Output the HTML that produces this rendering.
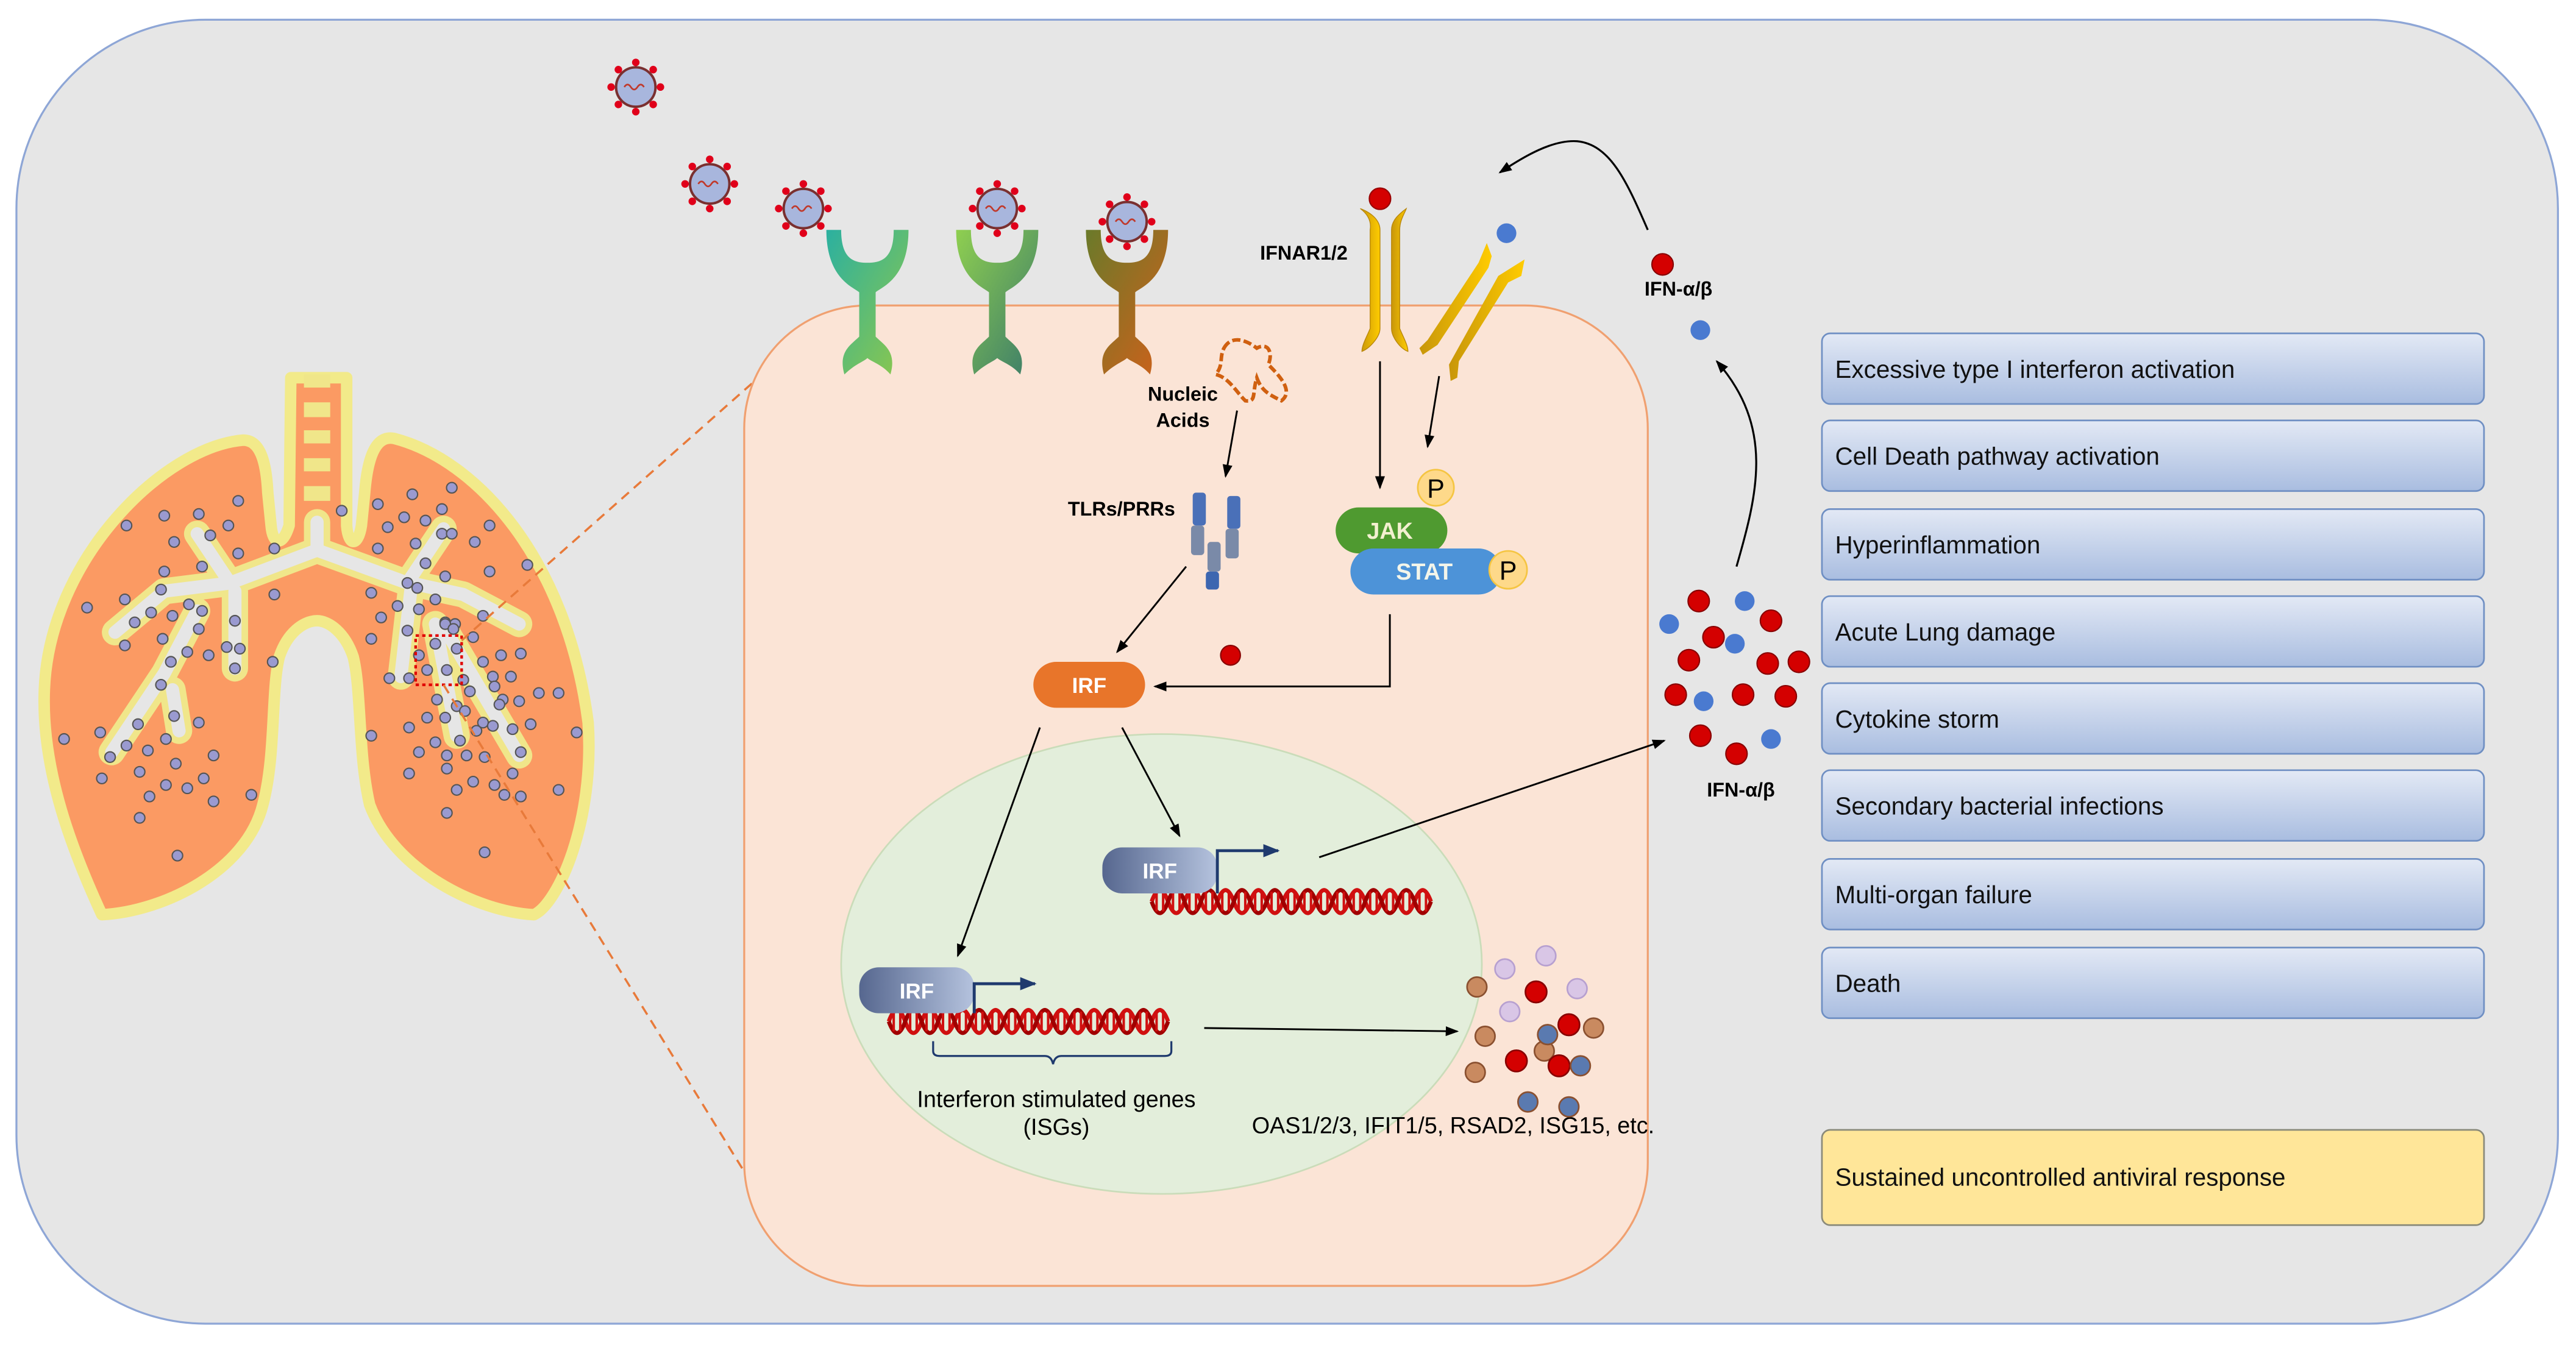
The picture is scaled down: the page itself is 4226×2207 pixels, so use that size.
<!DOCTYPE html>
<html><head><meta charset="utf-8"><style>
html,body{margin:0;padding:0;background:#fff;}
svg{display:block;}
text{font-family:"Liberation Sans",Arial,sans-serif;}
</style></head><body>
<svg width="4226" height="2207" viewBox="0 0 1568 819" preserveAspectRatio="none" xmlns="http://www.w3.org/2000/svg">
<defs>
<linearGradient id="box" x1="0" y1="0" x2="0" y2="1"><stop offset="0" stop-color="#e3e9f5"/><stop offset="1" stop-color="#a9bde0"/></linearGradient>
<linearGradient id="y1" x1="0" y1="0" x2="1" y2="0"><stop offset="0" stop-color="#c8960a"/><stop offset="1" stop-color="#ffcc00"/></linearGradient>
<linearGradient id="irf" x1="0" y1="0" x2="1" y2="0"><stop offset="0" stop-color="#56678f"/><stop offset="1" stop-color="#b5c3de"/></linearGradient>
<linearGradient id="r1" x1="0" y1="0" x2="1" y2="1"><stop offset="0" stop-color="#2bb0a0"/><stop offset="1" stop-color="#8fc84a"/></linearGradient>
<linearGradient id="r2" x1="0" y1="0" x2="1" y2="1"><stop offset="0" stop-color="#8fcf50"/><stop offset="1" stop-color="#3a7a6a"/></linearGradient>
<linearGradient id="r3" x1="0" y1="0" x2="1" y2="1"><stop offset="0" stop-color="#6a7a2a"/><stop offset="1" stop-color="#d0601a"/></linearGradient>
<marker id="ar" markerWidth="8" markerHeight="8" refX="7" refY="4" orient="auto" markerUnits="userSpaceOnUse"><path d="M0,1 L8,4 L0,7 Z" fill="#000"/></marker>
<marker id="arb" markerWidth="10" markerHeight="8" refX="9" refY="4" orient="auto" markerUnits="userSpaceOnUse"><path d="M0,0 L10,4 L0,8 Z" fill="#1f3a6e"/></marker>
<g id="vir"><circle r="12" fill="#a8b6dd" stroke="#7a3030" stroke-width="1.5"/><path d="M-7,0 q2,-3 4,0 t4,0 t4,0" stroke="#c0392b" fill="none" stroke-width="1"/>
<g fill="#e0001a"><circle cx="0" cy="-15" r="2.3"/><circle cx="0" cy="15" r="2.3"/><circle cx="-15" cy="0" r="2.3"/><circle cx="15" cy="0" r="2.3"/><circle cx="10.6" cy="10.6" r="2.3"/><circle cx="-10.6" cy="10.6" r="2.3"/><circle cx="10.6" cy="-10.6" r="2.3"/><circle cx="-10.6" cy="-10.6" r="2.3"/></g></g>
<g id="sv"><circle r="3.2" fill="#9a9ad0" stroke="#555" stroke-width="0.8"/></g>
<g id="dna"><path d="M0,0 q5,-14 10,0 t10,0 t10,0 t10,0 t10,0 t10,0 t10,0 t10,0 t10,0 t10,0 t10,0 t10,0 t10,0 t10,0 t10,0 t10,0 t10,0" stroke="#d01010" stroke-width="2.5" fill="none"/><path d="M0,0 q5,14 10,0 t10,0 t10,0 t10,0 t10,0 t10,0 t10,0 t10,0 t10,0 t10,0 t10,0 t10,0 t10,0 t10,0 t10,0 t10,0 t10,0" stroke="#a00000" stroke-width="2.5" fill="none"/><g stroke="#d01010" stroke-width="1.5"><path d="M3,-6v12M7,-6v12M13,-6v12M17,-6v12M23,-6v12M27,-6v12M33,-6v12M37,-6v12M43,-6v12M47,-6v12M53,-6v12M57,-6v12M63,-6v12M67,-6v12M73,-6v12M77,-6v12M83,-6v12M87,-6v12M93,-6v12M97,-6v12M103,-6v12M107,-6v12M113,-6v12M117,-6v12M123,-6v12M127,-6v12M133,-6v12M137,-6v12M143,-6v12M147,-6v12M153,-6v12M157,-6v12M163,-6v12M167,-6v12"/></g></g>
</defs>
<rect width="1568" height="819" fill="#fff"/>
<rect x="10" y="12" width="1547" height="794" rx="115" fill="#e6e6e6" stroke="#8ea6d6" stroke-width="1.2"/>

<!-- lungs -->
<path d="M148 268 C158 268 162 280 163 300 L165 320 C166 332 172 333 176 320 L177 230 L211 230 L211 320 C212 333 218 333 220 320 L222 300 C224 275 230 265 240 267 C290 280 345 340 358 440 C362 500 340 550 325 557 C290 555 240 530 225 490 C218 460 220 420 215 400 C210 385 200 378 193 378 C185 378 175 385 170 400 C165 420 168 460 160 490 C150 530 100 555 62 557 C45 520 25 470 27 420 C30 340 100 272 148 268 Z" fill="#fb9a63" stroke="#f2ea8a" stroke-width="7" stroke-linejoin="round"/>
<g fill="#f0e68a"><rect x="185" y="228" width="16" height="8"/><rect x="185" y="245" width="16" height="9"/><rect x="185" y="262" width="16" height="8"/><rect x="185" y="279" width="16" height="8"/><rect x="185" y="296" width="16" height="9"/></g>
<g fill="none" stroke-linecap="round" stroke-linejoin="round">
<path d="M193 318 L193 335 L140 355 L100 360 L70 385 M140 355 L120 325 M120 372 L100 410 L68 458 M105 420 L109 445 M143 360 L143 407 M193 335 L248 355 L270 322 M250 355 L282 362 L316 380 M250 360 L244 412 M265 380 L278 448 M272 385 L316 460" stroke="#f0e68a" stroke-width="16"/>
<path d="M193 318 L193 335 L140 355 L100 360 L70 385 M140 355 L120 325 M120 372 L100 410 L68 458 M105 420 L109 445 M143 360 L143 407 M193 335 L248 355 L270 322 M250 355 L282 362 L316 380 M250 360 L244 412 M265 380 L278 448 M272 385 L316 460" stroke="#e6e6e6" stroke-width="8"/>
</g>
<g>
<use href="#sv" x="77" y="320"/><use href="#sv" x="100" y="314"/><use href="#sv" x="121" y="313"/><use href="#sv" x="145" y="305"/><use href="#sv" x="106" y="330"/><use href="#sv" x="128" y="326"/><use href="#sv" x="139" y="320"/><use href="#sv" x="145" y="337"/><use href="#sv" x="167" y="334"/><use href="#sv" x="100" y="348"/><use href="#sv" x="123" y="345"/><use href="#sv" x="98" y="359"/><use href="#sv" x="76" y="365"/><use href="#sv" x="53" y="370"/><use href="#sv" x="82" y="379"/><use href="#sv" x="92" y="373"/><use href="#sv" x="105" y="375"/><use href="#sv" x="115" y="368"/><use href="#sv" x="123" y="372"/><use href="#sv" x="121" y="383"/><use href="#sv" x="143" y="378"/><use href="#sv" x="167" y="362"/><use href="#sv" x="76" y="393"/><use href="#sv" x="99" y="389"/><use href="#sv" x="114" y="397"/><use href="#sv" x="127" y="399"/><use href="#sv" x="138" y="394"/><use href="#sv" x="146" y="395"/><use href="#sv" x="104" y="403"/><use href="#sv" x="143" y="407"/><use href="#sv" x="166" y="403"/><use href="#sv" x="98" y="417"/><use href="#sv" x="106" y="436"/><use href="#sv" x="84" y="441"/><use href="#sv" x="121" y="440"/><use href="#sv" x="39" y="450"/><use href="#sv" x="61" y="446"/><use href="#sv" x="77" y="454"/><use href="#sv" x="101" y="450"/><use href="#sv" x="67" y="461"/><use href="#sv" x="90" y="457"/><use href="#sv" x="130" y="460"/><use href="#sv" x="107" y="465"/><use href="#sv" x="85" y="470"/><use href="#sv" x="62" y="474"/><use href="#sv" x="101" y="478"/><use href="#sv" x="114" y="480"/><use href="#sv" x="124" y="474"/><use href="#sv" x="91" y="485"/><use href="#sv" x="130" y="488"/><use href="#sv" x="153" y="484"/><use href="#sv" x="85" y="498"/><use href="#sv" x="108" y="521"/>
<use href="#sv" x="208" y="311"/><use href="#sv" x="230" y="307"/><use href="#sv" x="251" y="301"/><use href="#sv" x="275" y="297"/><use href="#sv" x="236" y="321"/><use href="#sv" x="246" y="315"/><use href="#sv" x="259" y="317"/><use href="#sv" x="269" y="310"/><use href="#sv" x="298" y="320"/><use href="#sv" x="230" y="334"/><use href="#sv" x="253" y="331"/><use href="#sv" x="269" y="325"/><use href="#sv" x="275" y="325"/><use href="#sv" x="289" y="330"/><use href="#sv" x="259" y="343"/><use href="#sv" x="271" y="351"/><use href="#sv" x="298" y="348"/><use href="#sv" x="321" y="344"/><use href="#sv" x="248" y="355"/><use href="#sv" x="254" y="358"/><use href="#sv" x="226" y="361"/><use href="#sv" x="242" y="369"/><use href="#sv" x="255" y="371"/><use href="#sv" x="265" y="365"/><use href="#sv" x="232" y="376"/><use href="#sv" x="271" y="379"/><use href="#sv" x="277" y="380"/><use href="#sv" x="294" y="375"/><use href="#sv" x="226" y="389"/><use href="#sv" x="248" y="384"/><use href="#sv" x="271" y="380"/><use href="#sv" x="276" y="383"/><use href="#sv" x="288" y="388"/><use href="#sv" x="305" y="399"/><use href="#sv" x="317" y="398"/><use href="#sv" x="255" y="399"/><use href="#sv" x="265" y="392"/><use href="#sv" x="278" y="395"/><use href="#sv" x="294" y="403"/><use href="#sv" x="237" y="413"/><use href="#sv" x="249" y="413"/><use href="#sv" x="260" y="408"/><use href="#sv" x="272" y="408"/><use href="#sv" x="282" y="414"/><use href="#sv" x="300" y="412"/><use href="#sv" x="311" y="412"/><use href="#sv" x="286" y="421"/><use href="#sv" x="301" y="418"/><use href="#sv" x="328" y="422"/><use href="#sv" x="340" y="422"/><use href="#sv" x="306" y="426"/><use href="#sv" x="266" y="426"/><use href="#sv" x="278" y="430"/><use href="#sv" x="304" y="429"/><use href="#sv" x="316" y="427"/><use href="#sv" x="260" y="437"/><use href="#sv" x="271" y="437"/><use href="#sv" x="283" y="433"/><use href="#sv" x="294" y="440"/><use href="#sv" x="249" y="443"/><use href="#sv" x="290" y="445"/><use href="#sv" x="300" y="442"/><use href="#sv" x="312" y="444"/><use href="#sv" x="323" y="441"/><use href="#sv" x="351" y="446"/><use href="#sv" x="226" y="448"/><use href="#sv" x="265" y="452"/><use href="#sv" x="280" y="451"/><use href="#sv" x="317" y="458"/><use href="#sv" x="255" y="458"/><use href="#sv" x="272" y="460"/><use href="#sv" x="284" y="460"/><use href="#sv" x="295" y="461"/><use href="#sv" x="249" y="471"/><use href="#sv" x="272" y="468"/><use href="#sv" x="312" y="471"/><use href="#sv" x="288" y="476"/><use href="#sv" x="301" y="478"/><use href="#sv" x="278" y="481"/><use href="#sv" x="340" y="481"/><use href="#sv" x="307" y="484"/><use href="#sv" x="317" y="485"/><use href="#sv" x="272" y="495"/><use href="#sv" x="295" y="519"/>
</g>
<rect x="253" y="387" width="28" height="30" fill="none" stroke="#e00000" stroke-width="1.6" stroke-dasharray="2 2"/>
<line x1="281" y1="390" x2="500" y2="196" stroke="#e87a3a" stroke-width="1.3" stroke-dasharray="6 4"/>
<line x1="270" y1="417" x2="462" y2="728" stroke="#e87a3a" stroke-width="1.3" stroke-dasharray="6 4"/>

<!-- cell -->
<rect x="453" y="186" width="550" height="597" rx="75" fill="#fbe4d6" stroke="#f0a070" stroke-width="1.2"/>
<ellipse cx="707" cy="587" rx="195" ry="140" fill="#e3eedb" stroke="#cadcb9" stroke-width="1"/>

<!-- receptors -->
<g>
<path d="M503 140 C503 170 520 175 523 178 L523 205 C518 210 510 214 514 228 C520 222 526 220 528 218 C530 220 537 222 542 228 C546 214 538 210 533 205 L533 178 C536 175 553 170 553 140 L544 140 C544 158 536 160 528 160 C520 160 512 158 512 140 Z" fill="url(#r1)"/>
<path d="M582 140 C582 170 599 175 602 178 L602 205 C597 210 589 214 593 228 C599 222 605 220 607 218 C609 220 616 222 621 228 C625 214 617 210 612 205 L612 178 C615 175 632 170 632 140 L623 140 C623 158 615 160 607 160 C599 160 591 158 591 140 Z" fill="url(#r2)"/>
<path d="M661 140 C661 170 678 175 681 178 L681 205 C676 210 668 214 672 228 C678 222 684 220 686 218 C688 220 695 222 700 228 C704 214 696 210 691 205 L691 178 C694 175 711 170 711 140 L702 140 C702 158 694 160 686 160 C678 160 670 158 670 140 Z" fill="url(#r3)"/>
</g>
<use href="#vir" x="387" y="53"/><use href="#vir" x="432" y="112"/><use href="#vir" x="489" y="127"/><use href="#vir" x="607" y="127"/><use href="#vir" x="686" y="135"/>

<!-- IFNAR -->
<path d="M828 127 C832 130 835 134 834 140 L834 200 C832 205 829 210 829 214 C834 212 840 205 840 200 L840 140 C840 135 836 130 828 127 Z" fill="url(#y1)" stroke="#b8860b" stroke-width="0.5"/>
<path d="M856 127 C852 130 847 134 847 140 L847 200 C847 205 852 212 857 214 C857 210 854 205 852 200 L852 140 C852 134 855 130 856 127 Z" fill="url(#y1)" stroke="#b8860b" stroke-width="0.5"/>
<path d="M905 148 L908 156 L906 163 L875 210 L866 216 L864 212 L869 207 L900 160 Z" fill="url(#y1)"/>
<path d="M928 158 L926 168 L918 172 L888 220 L887 230 L883 232 L882 222 L912 168 Z" fill="url(#y1)"/>
<circle cx="840" cy="121" r="6.5" fill="#d40000" stroke="#900" stroke-width="0.8"/>
<circle cx="917" cy="142" r="6" fill="#4a7ad0"/>
<text x="767" y="158" font-size="12" font-weight="bold">IFNAR1/2</text>
<path d="M1003 140 C990 110 980 88 960 86 C945 85 928 95 913 105" fill="none" stroke="#000" stroke-width="1.2" marker-end="url(#ar)"/>
<circle cx="1012" cy="161" r="6.5" fill="#d40000" stroke="#800" stroke-width="0.8"/>
<text x="1001" y="180" font-size="12" font-weight="bold">IFN-α/β</text>
<circle cx="1035" cy="201" r="6" fill="#4a7ad0"/>
<path d="M1057 345 C1070 300 1080 260 1045 220" fill="none" stroke="#000" stroke-width="1.2" marker-end="url(#ar)"/>

<!-- IFN cluster -->
<g fill="#d40000" stroke="#800" stroke-width="0.8"><circle cx="1034" cy="366" r="6.5"/><circle cx="1078" cy="378" r="6.5"/><circle cx="1043" cy="388" r="6.5"/><circle cx="1028" cy="402" r="6.5"/><circle cx="1076" cy="404" r="6.5"/><circle cx="1095" cy="403" r="6.5"/><circle cx="1020" cy="423" r="6.5"/><circle cx="1061" cy="423" r="6.5"/><circle cx="1087" cy="424" r="6.5"/><circle cx="1035" cy="448" r="6.5"/><circle cx="1057" cy="459" r="6.5"/></g>
<g fill="#4a7ad0"><circle cx="1062" cy="366" r="6"/><circle cx="1016" cy="380" r="6"/><circle cx="1056" cy="392" r="6"/><circle cx="1037" cy="427" r="6"/><circle cx="1078" cy="450" r="6"/></g>
<text x="1039" y="485" font-size="12" font-weight="bold">IFN-α/β</text>

<!-- nucleic acids -->
<path d="M745 212 C750 203 760 208 765 212 C772 208 775 215 772 222 C778 228 788 238 780 244 C772 240 768 238 765 230 C762 240 765 245 758 244 C752 238 748 230 740 228 C745 222 742 218 745 212 Z" fill="none" stroke="#d06010" stroke-width="2.2" stroke-dasharray="5 2"/>
<text x="720" y="244" font-size="12" font-weight="bold" text-anchor="middle">Nucleic</text>
<text x="720" y="260" font-size="12" font-weight="bold" text-anchor="middle">Acids</text>
<line x1="753" y1="250" x2="746" y2="290" stroke="#000" stroke-width="1.1" marker-end="url(#ar)"/>
<text x="650" y="314" font-size="12" font-weight="bold">TLRs/PRRs</text>
<g><rect x="726" y="300" width="8" height="20" rx="2" fill="#4a70b8"/><rect x="747" y="302" width="8" height="20" rx="2" fill="#4a70b8"/><rect x="725" y="320" width="8" height="18" rx="2" fill="#7a8aa8"/><rect x="746" y="322" width="8" height="18" rx="2" fill="#7a8aa8"/><rect x="735" y="330" width="8" height="18" rx="2" fill="#7a8aa8"/><rect x="734" y="348" width="8" height="11" rx="2" fill="#3d66b0"/></g>
<line x1="722" y1="345" x2="680" y2="397" stroke="#000" stroke-width="1.1" marker-end="url(#ar)"/>
<line x1="840" y1="220" x2="840" y2="297" stroke="#000" stroke-width="1.1" marker-end="url(#ar)"/>
<line x1="876" y1="229" x2="869" y2="272" stroke="#000" stroke-width="1.1" marker-end="url(#ar)"/>

<!-- JAK/STAT -->
<rect x="813" y="309" width="68" height="28" rx="14" fill="#4f9a30"/>
<text x="846" y="328" font-size="14" font-weight="bold" fill="#f3f0d0" text-anchor="middle">JAK</text>
<circle cx="874" cy="297" r="11" fill="#fed98a" stroke="#f5c542" stroke-width="1"/>
<text x="874" y="303" font-size="16" text-anchor="middle">P</text>
<rect x="822" y="334" width="92" height="28" rx="14" fill="#4d93d8"/>
<text x="867" y="353" font-size="14" font-weight="bold" fill="#f3f5ea" text-anchor="middle">STAT</text>
<circle cx="918" cy="347" r="11.5" fill="#fed98a" stroke="#f5c542" stroke-width="1"/>
<text x="918" y="353" font-size="16" text-anchor="middle">P</text>
<path d="M846 374 L846 418 L703 418" fill="none" stroke="#000" stroke-width="1.1" marker-end="url(#ar)"/>
<circle cx="749" cy="399" r="6" fill="#d40000" stroke="#800" stroke-width="0.8"/>

<!-- IRF -->
<rect x="629" y="403" width="68" height="28" rx="14" fill="#e8752a"/>
<text x="663" y="422" font-size="13" font-weight="bold" fill="#fff" text-anchor="middle">IRF</text>
<line x1="633" y1="443" x2="583" y2="582" stroke="#000" stroke-width="1.1" marker-end="url(#ar)"/>
<line x1="683" y1="443" x2="718" y2="509" stroke="#000" stroke-width="1.1" marker-end="url(#ar)"/>

<!-- nuclear IRF 1 -->
<use href="#dna" x="701" y="549"/>
<rect x="671" y="516" width="70" height="28" rx="12" fill="url(#irf)"/>
<text x="706" y="535" font-size="13" font-weight="bold" fill="#fff" text-anchor="middle">IRF</text>
<path d="M741 544 L741 518 L778 518" fill="none" stroke="#1f3a6e" stroke-width="1.8" marker-end="url(#arb)"/>
<line x1="803" y1="522" x2="1013" y2="451" stroke="#000" stroke-width="1.1" marker-end="url(#ar)"/>

<!-- nuclear IRF 2 -->
<use href="#dna" x="541" y="622"/>
<rect x="523" y="589" width="70" height="28" rx="12" fill="url(#irf)"/>
<text x="558" y="608" font-size="13" font-weight="bold" fill="#fff" text-anchor="middle">IRF</text>
<path d="M593 617 L593 599 L630 599" fill="none" stroke="#1f3a6e" stroke-width="1.8" marker-end="url(#arb)"/>
<path d="M568 634 L568 640 Q568 643 572 643 L636 643 Q640 643 641 648 Q642 643 646 643 L709 643 Q713 643 713 640 L713 634" fill="none" stroke="#1f3a6e" stroke-width="1.2"/>
<text x="643" y="674" font-size="14" text-anchor="middle">Interferon stimulated genes</text>
<text x="643" y="691" font-size="14" text-anchor="middle">(ISGs)</text>
<line x1="733" y1="626" x2="887" y2="628" stroke="#000" stroke-width="1.1" marker-end="url(#ar)"/>
<text x="762" y="690" font-size="14">OAS1/2/3, IFIT1/5, RSAD2, ISG15, etc.</text>

<!-- cytokines -->
<g stroke-width="1"><circle cx="941" cy="582" r="6" fill="#d9c6e6" stroke="#b7a0d0"/><circle cx="916" cy="590" r="6" fill="#d9c6e6" stroke="#b7a0d0"/><circle cx="960" cy="602" r="6" fill="#d9c6e6" stroke="#b7a0d0"/><circle cx="919" cy="616" r="6" fill="#d9c6e6" stroke="#b7a0d0"/>
<circle cx="899" cy="601" r="6" fill="#c98a60" stroke="#8a5030"/><circle cx="904" cy="631" r="6" fill="#c98a60" stroke="#8a5030"/><circle cx="970" cy="626" r="6" fill="#c98a60" stroke="#8a5030"/><circle cx="898" cy="653" r="6" fill="#c98a60" stroke="#8a5030"/><circle cx="940" cy="640" r="6" fill="#c98a60" stroke="#8a5030"/>
<circle cx="935" cy="604" r="6.5" fill="#d40000" stroke="#800"/><circle cx="955" cy="624" r="6.5" fill="#d40000" stroke="#800"/><circle cx="923" cy="646" r="6.5" fill="#d40000" stroke="#800"/><circle cx="949" cy="649" r="6.5" fill="#d40000" stroke="#800"/>
<circle cx="942" cy="630" r="6" fill="#5a7ab0" stroke="#8a5030"/><circle cx="962" cy="649" r="6" fill="#5a7ab0" stroke="#8a5030"/><circle cx="930" cy="671" r="6" fill="#5a7ab0" stroke="#8a5030"/><circle cx="955" cy="674" r="6" fill="#5a7ab0" stroke="#8a5030"/></g>

<!-- right boxes -->
<g stroke="#6f8fc3" stroke-width="1" fill="url(#box)">
<rect x="1109" y="203" width="403" height="43" rx="5"/><rect x="1109" y="256" width="403" height="43" rx="5"/><rect x="1109" y="310" width="403" height="43" rx="5"/><rect x="1109" y="363" width="403" height="43" rx="5"/><rect x="1109" y="416" width="403" height="43" rx="5"/><rect x="1109" y="469" width="403" height="43" rx="5"/><rect x="1109" y="523" width="403" height="43" rx="5"/><rect x="1109" y="577" width="403" height="43" rx="5"/>
</g>
<rect x="1109" y="688" width="403" height="58" rx="5" fill="#ffe699" stroke="#8a8a7a" stroke-width="1"/>
<g font-size="15" fill="#111">
<text x="1117" y="230">Excessive type I interferon activation</text>
<text x="1117" y="283">Cell Death pathway activation</text>
<text x="1117" y="337">Hyperinflammation</text>
<text x="1117" y="390">Acute Lung damage</text>
<text x="1117" y="443">Cytokine storm</text>
<text x="1117" y="496">Secondary bacterial infections</text>
<text x="1117" y="550">Multi-organ failure</text>
<text x="1117" y="604">Death</text>
<text x="1117" y="722">Sustained uncontrolled antiviral response</text>
</g>
</svg>
</body></html>
